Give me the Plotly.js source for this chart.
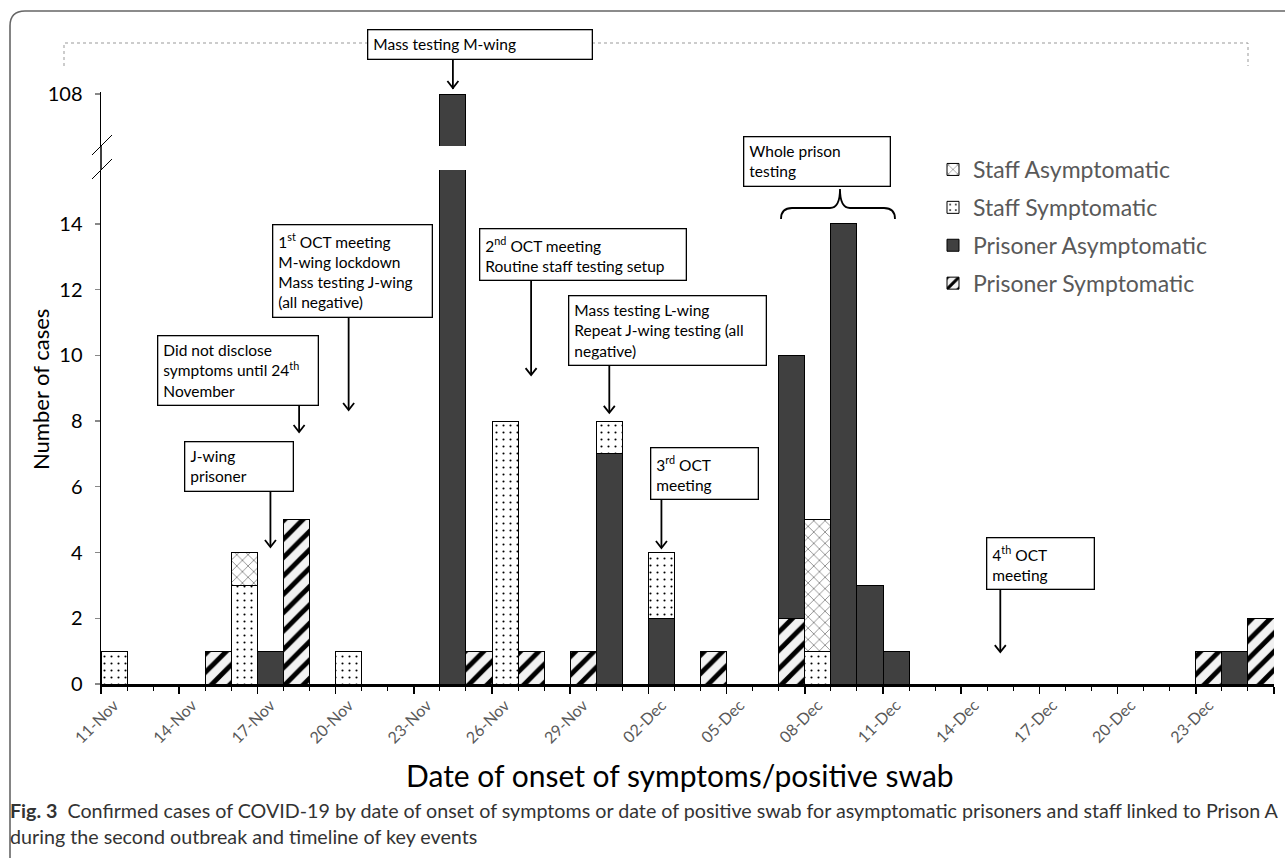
<!DOCTYPE html>
<html><head><meta charset="utf-8">
<script src="https://cdn.plot.ly/plotly-3.0.1.min.js"></script>
<style>html,body{margin:0;padding:0;background:#fff;} #chart{width:1285px;height:858px;}</style>
</head><body><div id="chart"></div>
<script>
// ---------- DATA ----------
const dates = ['11-Nov','12-Nov','13-Nov','14-Nov','15-Nov','16-Nov','17-Nov','18-Nov','19-Nov','20-Nov',
  '21-Nov','22-Nov','23-Nov','24-Nov','25-Nov','26-Nov','27-Nov','28-Nov','29-Nov','30-Nov',
  '01-Dec','02-Dec','03-Dec','04-Dec','05-Dec','06-Dec','07-Dec','08-Dec','09-Dec','10-Dec',
  '11-Dec','12-Dec','13-Dec','14-Dec','15-Dec','16-Dec','17-Dec','18-Dec','19-Dec','20-Dec',
  '21-Dec','22-Dec','23-Dec','24-Dec','25-Dec'];
const tickLabels = ['11-Nov','14-Nov','17-Nov','20-Nov','23-Nov','26-Nov','29-Nov','02-Dec','05-Dec',
  '08-Dec','11-Dec','14-Dec','17-Dec','20-Dec','23-Dec'];
const prisonerSymptomatic  = [0,0,0,0,1,0,0,5,0,0, 0,0,0,0,1,0,1,0,1,0, 0,0,0,1,0,0,2,0,0,0, 0,0,0,0,0,0,0,0,0,0, 0,0,1,0,2];
const prisonerAsymptomatic = [0,0,0,0,0,0,1,0,0,0, 0,0,0,108,0,0,0,0,0,7, 0,2,0,0,0,0,8,0,14,3, 1,0,0,0,0,0,0,0,0,0, 0,0,0,1,0];
const staffSymptomatic     = [1,0,0,0,0,3,0,0,0,1, 0,0,0,0,0,8,0,0,0,1, 0,2,0,0,0,0,0,1,0,0, 0,0,0,0,0,0,0,0,0,0, 0,0,0,0,0];
const staffAsymptomatic    = [0,0,0,0,0,1,0,0,0,0, 0,0,0,0,0,0,0,0,0,0, 0,0,0,0,0,0,0,4,0,0, 0,0,0,0,0,0,0,0,0,0, 0,0,0,0,0];
const seriesNames = ['Prisoner Symptomatic','Prisoner Asymptomatic','Staff Symptomatic','Staff Asymptomatic'];
const lowerTicks = [0,2,4,6,8,10,12,14];
const upperTicks = [108];

// ---------- GEOMETRY (pixels) ----------
const W = 1285, H = 858;
const L = 101, R = 1274, T = 92, B = 684;
const px = p => (p - L) / (R - L);
const py = p => (B - p) / (B - T);
const lowerTopPx = 170, upperBottomPx = 146;
const perUnit = 32.86;
const perDay = (R - L) / dates.length;
const FONT = 'Lato, "Open Sans", sans-serif';

const xIdx = dates.map((d, i) => i);
const nz = arr => arr.map(v => v === 0 ? null : v);

const styles = [
  {color:'#f2f2f2', pattern:{shape:'/', fgcolor:'#000', bgcolor:'#f2f2f2', size:13, solidity:0.38}},
  {color:'#404040'},
  {color:'#ffffff', pattern:{shape:'.', fgcolor:'#000', bgcolor:'#ffffff', size:7, solidity:0.07}},
  {color:'#ffffff', pattern:{shape:'x', fgcolor:'#000', bgcolor:'#ffffff', size:8, solidity:0.1}}
];
const series = [prisonerSymptomatic, prisonerAsymptomatic, staffSymptomatic, staffAsymptomatic];

const traces = series.map((s, k) => ({
  type:'bar', name: seriesNames[k], x: xIdx, y: nz(s), xaxis:'x', yaxis:'y',
  legendgroup: 'g' + k, legendrank: 4 - k,
  marker: Object.assign({line:{color:'#000', width:1}}, styles[k]),
  hoverinfo:'skip'
}));
// upper (broken) panel
traces.push({type:'bar', name: seriesNames[1], x: xIdx, y: nz(prisonerAsymptomatic), xaxis:'x', yaxis:'y2',
  showlegend:false, marker: Object.assign({line:{color:'#000', width:1}}, styles[1]), hoverinfo:'skip'});
// label axis carrier
traces.push({type:'scatter', mode:'markers', x:[], y:[], xaxis:'x2', yaxis:'y', showlegend:false, hoverinfo:'skip'});

// ---------- TEXT BOXES ----------
const boxes = [
  {b:[367,29,592,58],  t:'Mass testing M-wing'},
  {b:[272,224,432,314], t:'1<sup>st</sup> OCT meeting<br>M-wing lockdown<br>Mass testing J-wing<br>(all negative)'},
  {b:[157,335,318,406], t:'Did not disclose<br>symptoms until 24<sup>th</sup><br>November'},
  {b:[184,441,293,492], t:'J-wing<br>prisoner'},
  {b:[479,228,686,279], t:'2<sup>nd</sup> OCT meeting<br>Routine staff testing setup'},
  {b:[568,295,766,366], t:'Mass testing L-wing<br>Repeat J-wing testing (all<br>negative)'},
  {b:[650,447,758,497], t:'3<sup>rd</sup> OCT<br>meeting'},
  {b:[743,136,890,187], t:'Whole prison<br>testing'},
  {b:[986,537,1094,587], t:'4<sup>th</sup> OCT<br>meeting'}
];
const PAD = 5;
const annotations = boxes.map(o => ({
  xref:'paper', yref:'paper', x: px(o.b[0]), y: py(o.b[1]), xanchor:'left', yanchor:'top',
  text: o.t, showarrow:false, align:'left',
  width: o.b[2]-o.b[0]-2*PAD-2,
  bordercolor:'#000', borderwidth:1.3, borderpad:PAD, bgcolor:'#fff',
  font:{family:FONT, size:15.5, color:'#000'}
}));

// axis titles and caption
annotations.push({xref:'paper', yref:'paper', x:px(680), y:py(775), xanchor:'center', yanchor:'middle',
  text:'Date of onset of symptoms/positive swab', showarrow:false, font:{family:FONT, size:30, color:'#000'}});
annotations.push({xref:'paper', yref:'paper', x:px(40), y:py(390), xanchor:'center', yanchor:'middle', textangle:-90,
  text:'Number of cases', showarrow:false, font:{family:FONT, size:22, color:'#000'}});
annotations.push({xref:'paper', yref:'paper', x:px(8), y:py(797), xanchor:'left', yanchor:'top', align:'left',
  text:'<b>Fig. 3</b>  Confirmed cases of COVID-19 by date of onset of symptoms or date of positive swab for asymptomatic prisoners and staff linked to Prison A<br>during the second outbreak and timeline of key events',
  showarrow:false, font:{family:FONT, size:19.7, color:'#333'}});

// ---------- SHAPES ----------
const pathPx = cmds => cmds.map(c => c[0] + ' ' + c.slice(1).map((v, i) => i % 2 === 0 ? px(v) : py(v)).join(' ')).join(' ');
const shapes = [
  {type:'path', xref:'paper', yref:'paper', path: pathPx([['M',10,870],['L',10,26],['Q',10,11,25,11],['L',1290,11]]),
    line:{color:'#666', width:1.6}},
  {type:'path', xref:'paper', yref:'paper', path: pathPx([['M',64,66],['L',64,43],['L',367,43]]),
    line:{color:'#999', width:1, dash:'dot'}},
  {type:'path', xref:'paper', yref:'paper', path: pathPx([['M',592,43],['L',1248,43],['L',1248,66]]),
    line:{color:'#999', width:1, dash:'dot'}},
  {type:'line', xref:'paper', yref:'paper', x0:0, x1:0, y0:py(lowerTopPx), y1:py(upperBottomPx), line:{color:'#000', width:1.5}},
  {type:'line', xref:'paper', yref:'paper', x0:px(92), x1:px(112), y0:py(155), y1:py(135), line:{color:'#000', width:1}},
  {type:'line', xref:'paper', yref:'paper', x0:px(92), x1:px(112), y0:py(179), y1:py(159), line:{color:'#000', width:1}},
  {type:'path', xref:'paper', yref:'paper', path: pathPx([['M',781,219],['Q',781,208,792,208],['L',830,208],['Q',840,208,840,189],
    ['Q',840,208,850,208],['L',884,208],['Q',895,208,895,219]]), line:{color:'#000', width:1.8}}
];
// arrows pointing at dates: [day index, head value, tail pixel y]
const arrows = [
  [9, 8.34, 314], [7.1, 7.67, 406], [6, 4.17, 492], [16, 9.4, 279],
  [19, 8.25, 366], [21, 4.14, 497], [34, 0.97, 587]
];
const hx = 5.5 / perDay, hy = 7 / perUnit;
arrows.forEach(a => {
  const tailV = (B - a[2]) / perUnit;
  shapes.push({type:'line', xref:'x', yref:'y', x0:a[0], x1:a[0], y0:a[1] + 0.03, y1:tailV, line:{color:'#000', width:1.8}});
  shapes.push({type:'path', xref:'x', yref:'y', path:`M ${a[0]-hx} ${a[1]+hy} L ${a[0]} ${a[1]} L ${a[0]+hx} ${a[1]+hy}`,
    line:{color:'#000', width:1.8}});
});
// arrow to the 108 bar (above the break)
shapes.push({type:'line', xref:'x', yref:'paper', x0:13, x1:13, y0:py(89), y1:py(58), line:{color:'#000', width:1.8}});
shapes.push({type:'path', xref:'x', yref:'paper', path:`M ${13-hx} ${py(81)} L 13 ${py(88)} L ${13+hx} ${py(81)}`,
  line:{color:'#000', width:1.8}});

const layout = {
  width: W, height: H, margin:{l:L, r:W-R, t:T, b:H-B}, paper_bgcolor:'#fff', plot_bgcolor:'rgba(0,0,0,0)',
  font:{family:FONT, color:'#000'},
  barmode:'stack', bargap:0, showlegend:true,
  legend:{x:px(933), y:py(148), xanchor:'left', yanchor:'top', traceorder:'grouped', tracegroupgap:5,
    font:{family:FONT, size:23, color:'#595959'}, bgcolor:'rgba(0,0,0,0)'},
  xaxis:{range:[-0.5, 44.5], showline:true, linecolor:'#000', linewidth:2.5, zeroline:false, showgrid:false,
    tickmode:'linear', tick0:-0.5, dtick:3, ticks:'outside', ticklen:7, tickwidth:1.5, tickcolor:'#000', showticklabels:false,
    minor:{tickmode:'linear', tick0:-0.5, dtick:1, ticks:'outside', ticklen:4, tickwidth:1, tickcolor:'#000', showgrid:false},
    fixedrange:true},
  xaxis2:{overlaying:'x', anchor:'y', side:'bottom', range:[-0.5, 44.5], showline:false, zeroline:false, showgrid:false,
    tickmode:'array', tickvals: tickLabels.map(t => dates.indexOf(t)), ticktext: tickLabels, ticks:'', tickangle:-45,
    ticklabelstandoff:8, tickfont:{family:FONT, size:16, color:'#595959'}, fixedrange:true},
  yaxis:{domain:[0, py(lowerTopPx)], range:[0, (B - lowerTopPx)/perUnit], tickmode:'array', tickvals: lowerTicks,
    ticks:'outside', ticklen:5, tickcolor:'#888', tickwidth:1.3, showline:true, linecolor:'#000', linewidth:1.5,
    zeroline:false, showgrid:false, ticklabelstandoff:8, tickfont:{family:FONT, size:20, color:'#000'}, fixedrange:true},
  yaxis2:{domain:[py(upperBottomPx), 1], range:[100.5, 108.3], tickmode:'array', tickvals: upperTicks, anchor:'x',
    ticks:'outside', ticklen:5, tickcolor:'#888', tickwidth:1.3, showline:true, linecolor:'#000', linewidth:1.5,
    zeroline:false, showgrid:false, ticklabelstandoff:8, tickfont:{family:FONT, size:20, color:'#000'}, fixedrange:true},
  annotations: annotations,
  shapes: shapes
};

Plotly.newPlot('chart', traces, layout, {displayModeBar:false, staticPlot:true});
</script>
</body></html>
